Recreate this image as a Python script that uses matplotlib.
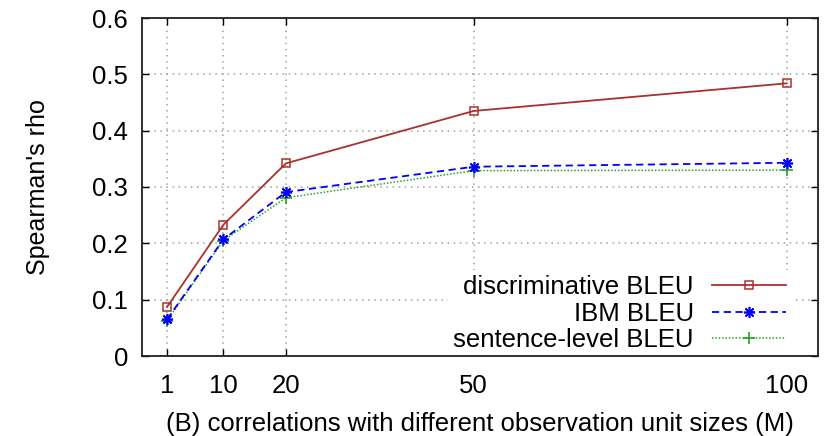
import matplotlib
matplotlib.use("Agg")
import matplotlib.pyplot as plt

plt.rcParams['font.family'] = ['Liberation Sans', 'DejaVu Sans']

# unit sizes (M) and Spearman's rho per metric
sizes = [1, 10, 20, 50, 100]
disc_bleu = [0.087, 0.233, 0.342, 0.435, 0.484]
ibm_bleu = [0.065, 0.207, 0.291, 0.336, 0.343]
sent_bleu = [0.063, 0.205, 0.281, 0.329, 0.330]

fig = plt.figure(figsize=(8.25, 4.36), dpi=100)
ax = fig.add_axes([142 / 825, 1 - 356 / 436, (818 - 142) / 825, (356 - 18) / 436])

ax.plot(sizes, disc_bleu, color='#a8322d', lw=1.3, marker='s', ms=6,
        mfc='none', mec='#a8322d', mew=1.1, label='discriminative BLEU', zorder=4)
ax.plot(sizes, ibm_bleu, color='#0000ff', lw=1.3, ls=(0, (4, 2.5)), marker=(8, 2, 0),
        ms=8, mew=1.2, label='IBM BLEU', zorder=3)
ax.plot(sizes, sent_bleu, color='#2aa02a', lw=1.1, ls=(0, (1, 1.2)), marker='+',
        ms=8, mew=1.2, label='sentence-level BLEU', zorder=2)

ax.set_xlim(-3, 105)
ax.set_ylim(0, 0.6)
ax.set_xticks(sizes)
ax.set_yticks([0, 0.1, 0.2, 0.3, 0.4, 0.5, 0.6])
ax.set_yticklabels(['0', '0.1', '0.2', '0.3', '0.4', '0.5', '0.6'])
ax.tick_params(direction='in', top=True, right=True, labelsize=18.5, length=5,
               width=1, pad=10)
ax.tick_params(axis='x', pad=13)
ax.grid(True, color='#a0a0a0', ls=(0, (1, 3)), lw=1.1)
for s in ax.spines.values():
    s.set_linewidth(1.3)
    s.set_color('#202020')
    s.set_zorder(6)

ax.set_ylabel("Spearman's rho", fontsize=18)
ax.yaxis.set_label_coords(-(142 - 50) / 676, 0.5)
ax.set_xlabel('(B) correlations with different observation unit sizes (M)',
              fontsize=18.5, labelpad=10)

leg = ax.legend(loc='lower right', bbox_to_anchor=(0.98, -0.042), markerfirst=False,
                fontsize=18.5, frameon=True, handlelength=2.9, handletextpad=0.7,
                labelspacing=0.1, borderpad=0.2, framealpha=1, fancybox=False)
leg.get_frame().set_edgecolor('none')
leg.set_zorder(5)
for t in leg.get_texts():
    t.set_ha('right')

fig.savefig('out.png', dpi=100)
